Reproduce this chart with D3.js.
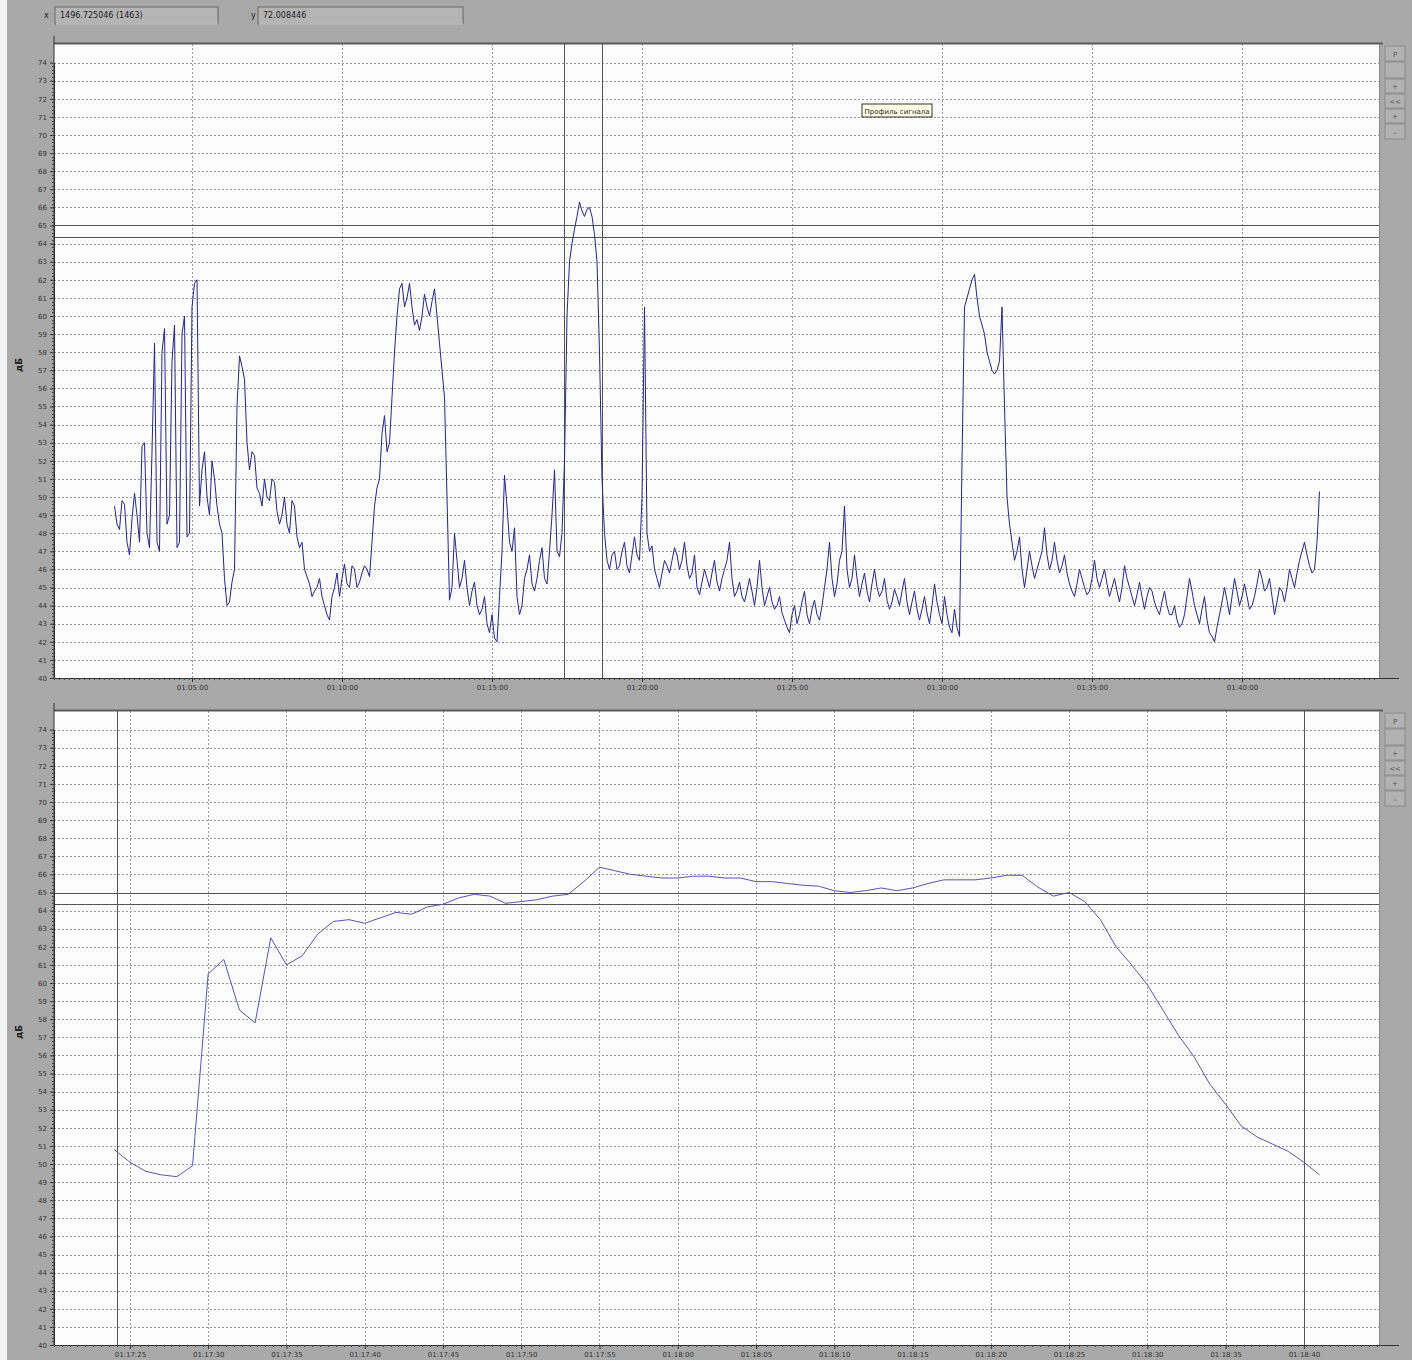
<!DOCTYPE html>
<html>
<head>
<meta charset="utf-8">
<script src="https://cdn.jsdelivr.net/npm/d3@7"></script>
<style>
    body { margin:0; background:#a9a9a9; }
    svg { display:block; font-family:"DejaVu Sans", sans-serif; }
</style>
</head>
<body>
<div id="chart-area"></div>
<script>
/*
    Signal profile, two panels
 */

// ---- data ----
// top panel: one reading every 5 s starting at 01:02:25
var topStart = 1*3600 + 2*60 + 25;
var topStep = 5;
var topDb = [
    // 01:02:25 - 01:05:15
    49.5, 48.5, 48.2, 49.8, 49.6, 47.5, 46.8, 48.8, 50.2, 49.0, 47.5, 52.8, 53.0, 48.0, 47.2, 52.5, 58.5,
    47.5, 47.0, 58.0, 59.3, 48.5, 49.0, 57.5, 59.5, 47.2, 47.5, 59.0, 60.0, 47.8, 48.0, 60.5, 61.8, 62.0, 49.5,
    51.5, 52.5, 50.0, 49.0,
    52.0, 51.0, 49.5, 48.5, 48.0, 45.5, 44.0, 44.2, 45.3, 46.0, 55.0, 57.8, 57.2, 56.5, 53.0, 51.5, 52.5, 52.3, 50.5, 50.2,
    49.5, 51.0, 50.0, 49.8, 51.0, 50.8, 49.2, 48.5, 49.0, 50.0, 48.5, 48.0, 49.8, 49.5, 47.8, 47.2, 47.5, 46.0, 45.6, 45.2,
    44.5, 44.8, 45.0, 45.5, 44.5, 44.0, 43.5, 43.2, 44.5, 45.0, 45.8, 44.5, 45.5, 46.3, 45.2, 45.0, 46.2, 46.0, 45.0, 45.3,
    45.8, 46.2, 46.0, 45.6, 47.5, 49.5, 50.5, 51.0, 53.5, 54.5, 52.5, 53.0, 55.5, 58.0, 60.0, 61.5, 61.8, 60.5, 61.0, 61.8,
    60.5, 59.5, 59.8, 59.2, 60.0, 61.2, 60.5, 60.0, 60.8, 61.5, 60.0, 58.5, 57.0, 55.5, 50.0, 44.3, 45.0, 48.0, 46.5, 45.0,
    45.5, 46.5, 45.0, 44.0, 44.8, 45.3, 44.0, 43.5, 43.8, 44.5, 43.0, 42.5, 43.5, 42.2, 42.0, 44.5, 47.0, 51.2, 49.5, 47.5,
    47.0, 48.3, 44.5, 43.5, 44.0, 45.5, 46.0, 46.8, 45.2, 44.8, 45.5, 46.5, 47.2, 45.5, 45.2, 47.0, 49.0, 51.5, 47.0, 46.7,
    48.0, 52.0, 60.0, 63.0, 64.0, 64.8, 65.5, 66.3, 65.8, 65.5, 65.9, 66.0, 65.5, 64.5, 63.0, 58.0, 51.0, 48.0, 46.5, 46.0,
    46.8, 47.0, 46.0, 46.2, 47.0, 47.5, 46.2, 45.8, 46.8, 47.8, 46.8, 46.5, 50.0, 60.5, 48.0, 47.0, 47.3, 46.0, 45.5, 45.0,
    45.8, 46.5, 46.2, 45.8, 46.5, 47.2, 46.8, 46.0, 46.5, 47.5, 46.2, 45.5, 45.8, 46.8, 45.0, 44.6, 45.3, 46.0, 45.5, 45.0,
    45.8, 46.5, 45.3, 44.8, 45.5, 46.0, 46.5, 47.5, 45.5, 44.5, 44.8, 45.3, 44.5, 44.2, 44.8, 45.5, 44.8, 44.0, 45.0, 46.5,
    45.0, 44.0, 44.5, 45.0, 44.2, 43.8, 44.0, 44.5, 43.6, 43.2, 42.8, 42.5, 43.5, 44.0, 43.0, 43.5, 44.2, 44.8, 43.5, 43.0,
    43.8, 44.3, 43.5, 43.2, 44.0, 45.0, 46.0, 47.5, 45.5, 44.5, 45.2, 46.5, 47.0, 49.5, 46.0, 45.0, 45.5, 46.8, 45.5, 44.5,
    45.2, 45.8, 44.8, 44.2, 45.2, 46.0, 45.0, 44.5, 44.8, 45.5, 44.3, 43.8, 44.2, 44.9, 44.5, 44.0, 44.8, 45.5, 44.2, 43.5,
    44.2, 44.8, 43.8, 43.2, 43.8, 44.5, 43.6, 43.0, 44.0, 45.2, 44.2, 43.5, 43.0, 44.5, 43.5, 42.8, 42.5, 43.8, 42.8, 42.3,
    52.0, 60.5, 61.0, 61.5, 62.0, 62.3, 61.0, 60.0, 59.5, 59.0, 58.0, 57.5, 57.0, 56.8, 57.0, 57.5, 60.5, 55.0, 50.0, 48.5,
    47.5, 46.5, 47.0, 47.8, 46.0, 45.0, 46.0, 47.0, 46.2, 45.5, 46.0, 46.5, 47.0, 48.3, 46.8, 46.0, 46.5, 47.5, 46.5, 45.8,
    46.2, 46.8, 45.8, 45.2, 44.8, 44.5, 45.2, 46.0, 45.5, 45.0, 44.6, 44.8, 45.5, 46.5, 45.5, 45.0, 45.5, 46.0, 45.2, 44.5,
    45.0, 45.5, 44.8, 44.2, 45.0, 46.2, 45.5, 45.0, 44.5, 44.0, 44.6, 45.3, 44.5, 43.8, 44.5, 45.0, 44.8, 44.2, 43.8, 43.5,
    44.2, 44.8, 44.0, 43.5, 43.5, 44.0, 43.2, 42.8, 43.0, 43.5, 44.5, 45.5, 44.8, 44.0, 43.5, 43.0, 43.8, 44.5, 43.2, 42.5,
    42.3, 42.0, 42.8, 43.5, 44.2, 45.0, 44.3, 43.5, 44.5, 45.5, 44.8, 44.0, 44.5, 45.2, 44.5, 43.8, 44.0, 44.5, 45.2, 46.0,
    45.5, 44.8, 45.0, 45.5, 44.5, 43.5, 44.2, 45.0, 44.8, 44.2, 45.0, 46.0, 45.5, 45.0, 45.8, 46.5, 47.0, 47.5, 46.8, 46.2,
    45.8, 46.0, 47.5, 50.3
];

// bottom panel: one reading per second starting at 01:17:24
var botStart = 1*3600 + 17*60 + 24;
var botStep = 1;
var botDb = [
    50.8, 50.1, 49.6, 49.4, 49.3, 49.9, 60.5, 61.3, 58.5, 57.8,
    62.5, 61.0, 61.5, 62.7, 63.4, 63.5, 63.3, 63.6, 63.9, 63.8,
    64.2, 64.35, 64.7, 64.9, 64.8, 64.4, 64.5, 64.6, 64.8, 64.9,
    65.6, 66.4, 66.2, 66.0, 65.9, 65.8, 65.8, 65.9, 65.9, 65.8,
    65.8, 65.6, 65.6, 65.5, 65.4, 65.35, 65.1, 65.0, 65.1, 65.25,
    65.1, 65.25, 65.5, 65.7, 65.7, 65.7, 65.8, 65.95, 65.95, 65.3,
    64.8, 65.0, 64.5, 63.5, 62.0, 61.0, 59.9, 58.5, 57.1, 55.9,
    54.4, 53.3, 52.1, 51.5, 51.1, 50.7, 50.1, 49.4
];

// ticks
var yTicks = d3.range(40, 75);
var topTicks = ["01:05:00", "01:10:00", "01:15:00", "01:20:00", "01:25:00", "01:30:00", "01:35:00", "01:40:00"];
var botTicks = ["01:17:25", "01:17:30", "01:17:35", "01:17:40", "01:17:45", "01:17:50", "01:17:55",
    "01:18:00", "01:18:05", "01:18:10", "01:18:15", "01:18:20", "01:18:25", "01:18:30", "01:18:35", "01:18:40"];

// threshold lines and selection markers
var levels = [65, 64.35];
var topMarks = ["01:17:24", "01:18:40"];
var botMarks = ["01:17:24.2", "01:18:40"];

var header = { x:"1496.725046 (1463)", y:"72.008446" };
var noteText = "Профиль сигнала";

// ---- helpers ----
function toSec(s) {
    var p = s.split(":");
    return (+p[0]) * 3600 + (+p[1]) * 60 + (+p[2]);
}
function fmt(sec) {
    var h = Math.floor(sec / 3600), m = Math.floor(sec % 3600 / 60), s = Math.round(sec % 60);
    return d3.format("02")(h) + ":" + d3.format("02")(m) + ":" + d3.format("02")(s);
}

var W = 1412, H = 1360;
var svg = d3.select("#chart-area")
    .append("svg")
    .attr("width", W)
    .attr("height", H);

svg.append("rect")
    .attr("width", W).attr("height", H)
    .attr("fill", "#a9a9a9");
// light strip at the window's left edge
svg.append("rect")
    .attr("width", 7).attr("height", H)
    .attr("fill", "#f2f2f2");

// ---- header boxes ----
function field(lbl, lx, bx, bw, txt) {
    svg.append("text")
        .attr("x", lx).attr("y", 18)
        .attr("font-size", "8px")
        .attr("fill", "#222")
        .text(lbl);
    svg.append("rect")
        .attr("x", bx).attr("y", 7)
        .attr("width", bw).attr("height", 17)
        .attr("fill", "#b4b4b4")
        .attr("stroke", "#6a6a6a");
    svg.append("line")
        .attr("x1", bx + 1).attr("x2", bx + bw).attr("y1", 24).attr("y2", 24)
        .attr("stroke", "#dcdcdc");
    svg.append("text")
        .attr("x", bx + 5).attr("y", 18)
        .attr("font-size", "8px")
        .attr("fill", "#222")
        .text(txt);
}
field("x", 44, 55, 163, header.x);
field("y", 251, 258, 205, header.y);

// ---- panel ----
function drawPanel(opt) {
    var left = 54, right = 1379, top = opt.top, bottom = opt.bottom;

    var x = d3.scaleLinear().domain(opt.xDomain).range([left, right]);
    var y = d3.scaleLinear().domain([40, 74]).range([bottom, bottom - 34 * 18.1]);

    var g = svg.append("g");

    // plot area
    g.append("rect")
        .attr("x", left).attr("y", top)
        .attr("width", right - left).attr("height", bottom - top)
        .attr("fill", "#fcfcfc");

    // horizontal grid
    g.append("g").selectAll("line")
        .data(yTicks.slice(1))
        .enter().append("line")
        .attr("x1", left).attr("x2", right)
        .attr("y1", function(d) { return Math.round(y(d)) + 0.5; })
        .attr("y2", function(d) { return Math.round(y(d)) + 0.5; })
        .attr("stroke", "#9a9a9a")
        .attr("stroke-dasharray", "2,2");

    // vertical grid at major ticks
    var tv = opt.ticks.map(toSec);
    g.append("g").selectAll("line")
        .data(tv)
        .enter().append("line")
        .attr("x1", function(d) { return Math.round(x(d)) + 0.5; })
        .attr("x2", function(d) { return Math.round(x(d)) + 0.5; })
        .attr("y1", top).attr("y2", bottom)
        .attr("stroke", "#9a9a9a")
        .attr("stroke-dasharray", "2,2");

    // threshold levels
    g.append("g").selectAll("line")
        .data(levels)
        .enter().append("line")
        .attr("x1", left).attr("x2", right)
        .attr("y1", function(d) { return Math.round(y(d)) + 0.5; })
        .attr("y2", function(d) { return Math.round(y(d)) + 0.5; })
        .attr("stroke", "#555")
        .attr("stroke-width", 1);

    // selection markers
    g.append("g").selectAll("line")
        .data(opt.marks.map(toSec))
        .enter().append("line")
        .attr("x1", function(d) { return Math.round(x(d)) + 0.5; })
        .attr("x2", function(d) { return Math.round(x(d)) + 0.5; })
        .attr("y1", top).attr("y2", bottom)
        .attr("stroke", "#555");

    // the signal
    var line = d3.line()
        .x(function(d, i) { return x(opt.start + i * opt.step); })
        .y(function(d) { return y(d); });
    g.append("path")
        .datum(opt.values)
        .attr("fill", "none")
        .attr("stroke", opt.color)
        .attr("stroke-width", opt.width)
        .attr("stroke-linejoin", "round")
        .attr("d", line);

    // frame top and right
    g.append("line")
        .attr("x1", left).attr("x2", right + 4).attr("y1", top - 0.5).attr("y2", top - 0.5)
        .attr("stroke", "#5a5a5a").attr("stroke-width", 2);
    g.append("line")
        .attr("x1", right + 0.5).attr("x2", right + 0.5).attr("y1", top).attr("y2", bottom)
        .attr("stroke", "#8a8a8a");

    // y axis
    var yAxis = g.append("g")
        .attr("transform", "translate(" + left + ",0)")
        .call(d3.axisLeft(y).tickValues(yTicks).tickSize(4).tickSizeOuter(0).tickFormat(d3.format("d")));
    yAxis.append("line")
        .attr("x1", 0).attr("x2", 0).attr("y1", top - 8).attr("y2", bottom)
        .attr("stroke", "#333");
    yAxis.append("g").selectAll("line")
        .data(d3.range(40, 74, 0.2))
        .enter().append("line")
        .attr("x1", -2).attr("x2", 0)
        .attr("y1", function(d) { return Math.round(y(d)) + 0.5; })
        .attr("y2", function(d) { return Math.round(y(d)) + 0.5; })
        .attr("stroke", "#444");

    // x axis
    var xAxis = g.append("g")
        .attr("transform", "translate(0," + bottom + ")")
        .call(d3.axisBottom(x).tickValues(tv).tickSize(4).tickSizeOuter(0).tickFormat(fmt));
    xAxis.select(".domain").remove();
    xAxis.append("line")
        .attr("x1", left).attr("x2", right + 20).attr("y1", 0.5).attr("y2", 0.5)
        .attr("stroke", "#333");
    xAxis.append("g").selectAll("line")
        .data(d3.range(opt.xDomain[0], opt.xDomain[1], opt.minor))
        .enter().append("line")
        .attr("x1", function(d) { return Math.round(x(d)) + 0.5; })
        .attr("x2", function(d) { return Math.round(x(d)) + 0.5; })
        .attr("y1", 0).attr("y2", 2)
        .attr("stroke", "#444");

    g.selectAll(".tick text")
        .attr("font-size", "7px")
        .attr("fill", "#333")
        .attr("font-family", "DejaVu Sans");
    yAxis.selectAll(".domain").attr("stroke", "#333");
    g.selectAll(".tick line").attr("stroke", "#333");

    // axis title
    g.append("text")
        .attr("transform", "translate(22," + ((top + bottom) / 2 + 4) + ") rotate(-90)")
        .attr("text-anchor", "middle")
        .attr("font-size", "9px")
        .attr("font-weight", "bold")
        .attr("fill", "#222")
        .text("дБ");

    // side buttons
    var bx = 1385, by = top + 2;
    var btns = ["P", "", "+", "<<", "+", "–"];
    var bh = [15, 16, 14, 14, 14, 15];
    var yy = by;
    btns.forEach(function(b, i) {
        g.append("rect")
            .attr("x", bx).attr("y", yy)
            .attr("width", 20).attr("height", bh[i])
            .attr("fill", "#b2b2b2")
            .attr("stroke", "#8c8c8c");
        g.append("text")
            .attr("x", bx + 10).attr("y", yy + bh[i] / 2 + 3)
            .attr("text-anchor", "middle")
            .attr("font-size", "7px")
            .attr("fill", "#555")
            .text(b);
        yy += bh[i] + 1;
    });

    return { x:x, y:y };
}

var topPanel = drawPanel({
    top:44, bottom:678,
    xDomain:[toSec("01:00:24"), toSec("01:44:34")],
    ticks:topTicks, marks:topMarks,
    start:topStart, step:topStep, values:topDb,
    color:"#24248e", width:1, minor:10
});

var botPanel = drawPanel({
    top:711, bottom:1345,
    xDomain:[toSec("01:17:20.15"), toSec("01:18:44.8")],
    ticks:botTicks, marks:botMarks,
    start:botStart, step:botStep, values:botDb,
    color:"#5656b8", width:1, minor:0.5
});

// note box on top panel
svg.append("rect")
    .attr("x", 862).attr("y", 104)
    .attr("width", 70).attr("height", 13)
    .attr("fill", "#ffffe8")
    .attr("stroke", "#333");
svg.append("text")
    .attr("x", 897).attr("y", 113.5)
    .attr("text-anchor", "middle")
    .attr("font-size", "7px")
    .attr("fill", "#222")
    .text(noteText);
</script>
</body>
</html>
